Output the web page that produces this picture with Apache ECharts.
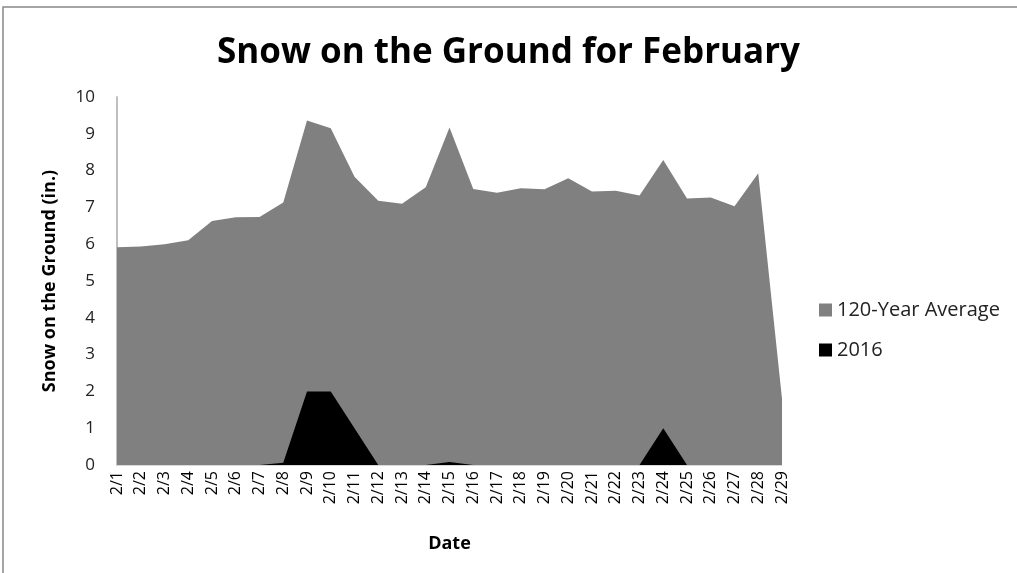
<!DOCTYPE html>
<html>
<head>
<meta charset="utf-8">
<script src="https://cdn.jsdelivr.net/npm/echarts@6/dist/echarts.min.js"></script>
<style>html,body{margin:0;padding:0;background:#fff;}#c{width:1017px;height:573px;}</style>
</head>
<body>
<div id="c"></div>
<script>
const categories = ['2/1','2/2','2/3','2/4','2/5','2/6','2/7','2/8','2/9','2/10','2/11','2/12','2/13','2/14','2/15','2/16','2/17','2/18','2/19','2/20','2/21','2/22','2/23','2/24','2/25','2/26','2/27','2/28','2/29'];
const average120 = [5.92,5.94,6.0,6.11,6.63,6.73,6.74,7.13,9.36,9.15,7.83,7.18,7.10,7.55,9.17,7.5,7.40,7.52,7.49,7.79,7.43,7.45,7.32,8.29,7.24,7.27,7.03,7.93,1.8];
const y2016 = [0,0,0,0,0,0,0,0.06,2,2,1,0,0,0,0.08,0,0,0,0,0,0,0,0,1,0,0,0,0,0];
const yTicks = [0,1,2,3,4,5,6,7,8,9,10];

const chart = echarts.init(document.getElementById('c'));
chart.setOption({
  animation: false,
  backgroundColor: '#fff',
  graphic: [{
    type: 'rect', shape: {x: 3, y: 7, width: 1100, height: 700},
    style: {fill: 'none', stroke: '#888', lineWidth: 1.5}, silent: true
  }],
  title: {
    text: 'Snow on the Ground for February',
    left: 'center', top: 31,
    textStyle: {fontFamily: 'Open Sans', fontWeight: 'bold', fontSize: 35, color: '#000'}
  },
  legend: {
    orient: 'vertical', left: 814, top: 295, itemGap: 20,
    itemWidth: 13, itemHeight: 13, icon: 'rect',
    textStyle: {fontFamily: 'Open Sans', fontSize: 20, color: '#222'},
    data: ['120-Year Average', '2016']
  },
  grid: {left: 117, right: 235, top: 97, bottom: 108},
  xAxis: {
    type: 'category', data: categories, boundaryGap: false,
    name: 'Date', nameLocation: 'middle', nameGap: 70,
    nameTextStyle: {fontFamily: 'Open Sans', fontWeight: 'bold', fontSize: 18, color: '#000'},
    axisLine: {show: true, lineStyle: {color: '#d9d9d9', width: 1}},
    axisTick: {show: false},
    axisLabel: {rotate: 90, interval: 0, margin: 6, fontFamily: 'Open Sans', fontSize: 16, color: '#000'},
    splitLine: {show: false}
  },
  yAxis: {
    type: 'value', min: 0, max: 10, interval: 1,
    name: 'Snow on the Ground (in.)', nameLocation: 'middle', nameGap: 58,
    nameTextStyle: {fontFamily: 'Open Sans', fontWeight: 'bold', fontSize: 18, color: '#000'},
    axisLine: {show: true, lineStyle: {color: '#bfbfbf', width: 2}},
    axisTick: {show: false},
    axisLabel: {margin: 22, fontFamily: 'Open Sans', fontSize: 17, color: '#222',
      formatter: v => yTicks.includes(v) ? String(v) : ''},
    splitLine: {show: false}
  },
  series: [
    {
      name: '120-Year Average', type: 'line', data: average120,
      symbol: 'none', lineStyle: {width: 0}, itemStyle: {color: '#808080'},
      areaStyle: {color: '#808080', opacity: 1}, z: 2
    },
    {
      name: '2016', type: 'line', data: y2016,
      symbol: 'none', lineStyle: {width: 0}, itemStyle: {color: '#000'},
      areaStyle: {color: '#000', opacity: 1}, z: 3
    }
  ]
});
</script>
</body>
</html>
